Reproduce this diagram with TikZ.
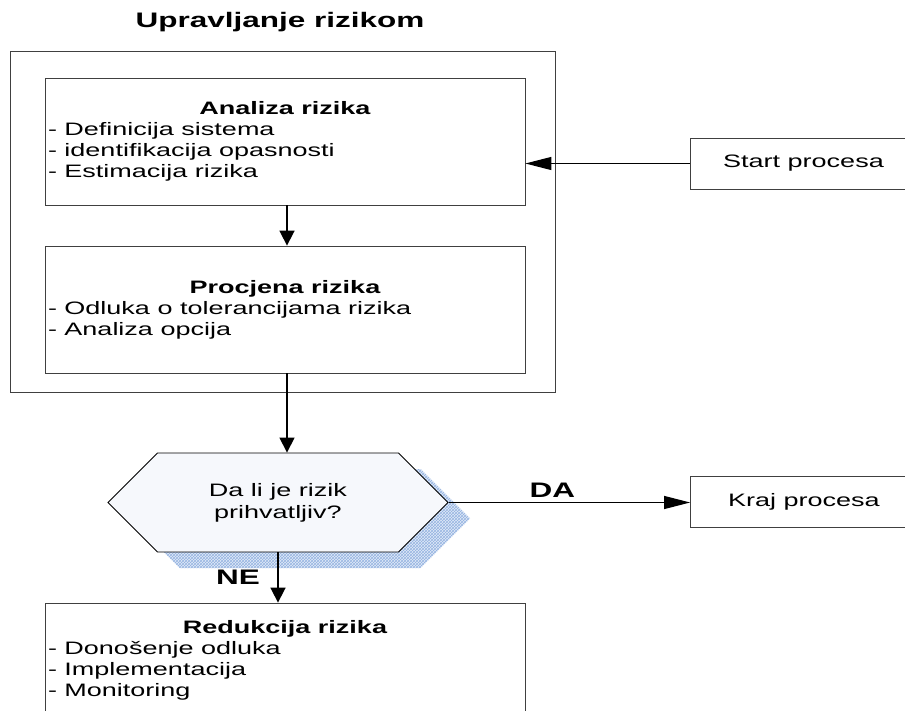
\documentclass[tikz,border=0pt]{standalone}
\usepackage{fontspec}
\setmainfont{Liberation Sans}
\usepackage{graphicx}
\usetikzlibrary{arrows.meta,shapes.symbols,patterns}

\definecolor{sjenaplava}{RGB}{150,180,225}
\definecolor{sjenafon}{RGB}{225,234,248}
\definecolor{odlukafon}{RGB}{246,248,252}

% sirina teksta kao na slici
\newcommand{\sx}[1]{\scalebox{1.5}[1]{#1}}
\newcommand{\boxtext}[2]{\sx{\parbox{316pt}{\centering\bfseries #1\par\raggedright\mdseries #2}}}

\begin{document}
\begin{tikzpicture}[
    x=1pt, y=-1pt,
    frame/.style={draw=black!75, line width=0.8pt, rectangle, minimum width=545pt, minimum height=341pt},
    box/.style={draw=black!75, line width=0.8pt, rectangle, minimum width=480pt, minimum height=127pt, inner xsep=3pt, inner ysep=0pt, font=\fontsize{18}{21}\selectfont},
    procbox/.style={draw=black!75, line width=0.8pt, rectangle, minimum width=227pt, minimum height=51pt, font=\fontsize{18}{21}\selectfont},
    decision/.style={signal, signal to=east and west, signal pointer angle=90, minimum width=340pt, minimum height=99pt, align=center, font=\fontsize{18}{22}\selectfont},
    head/.style={font=\fontsize{21}{24}\selectfont\bfseries},
    varrow/.style={line width=1.6pt, -{Triangle[length=15pt,width=15pt]}},
    harrow/.style={line width=1.2pt, -{Triangle[length=26pt,width=13pt]}}
]
  \useasboundingbox (0,0) rectangle (905,711);

  % Okvir upravljanja rizikom
  \node[frame] (upravljanje) at (282.5,221.5) {};
  \node[head] (naslov) at (280,22) {\sx{Upravljanje rizikom}};

  % Koraci unutar okvira
  \node[box] (analiza) at (285,141.5) {\boxtext{Analiza rizika}{- Definicija sistema\\- identifikacija opasnosti\\- Estimacija rizika}};
  \node[box] (procjena) at (285,309.5) {\boxtext{Procjena rizika}{- Odluka o tolerancijama rizika\\- Analiza opcija}};

  % Start i kraj
  \node[procbox] (start) at (803.5,163.5) {\sx{Start procesa}};
  \node[procbox] (kraj) at (804,501.5) {\sx{Kraj procesa}};

  % Odluka sa sjenom
  \node[decision, preaction={fill=sjenafon}, pattern=crosshatch, pattern color=sjenaplava] (sjena) at (300,518.5) {};
  \node[decision, draw=black, line width=0.9pt, fill=odlukafon] (odluka) at (278,502.5) {\sx{Da li je rizik}\\\sx{prihvatljiv?}};

  % Redukcija
  \node[box, minimum height=114pt] (redukcija) at (285,660) {\boxtext{Redukcija rizika}{- Dono\v{s}enje odluka\\- Implementacija\\- Monitoring}};

  % Veze
  \draw[harrow] (start.west) -- (start.west -| analiza.east);
  \draw[varrow] ([xshift=2pt]analiza.south) -- ([xshift=2pt]procjena.north);
  \draw[varrow] ([xshift=2pt]procjena.south) -- ([xshift=2pt]procjena.south |- odluka.north);
  \draw[harrow] (odluka.east) -- node[pos=0.43, above=1pt, head] (da) {\sx{DA}} (odluka.east -| kraj.west);
  \draw[varrow] (odluka.south) -- node[midway, left=14pt, head] (ne) {\sx{NE}} (odluka.south |- redukcija.north);

\end{tikzpicture}
\end{document}
